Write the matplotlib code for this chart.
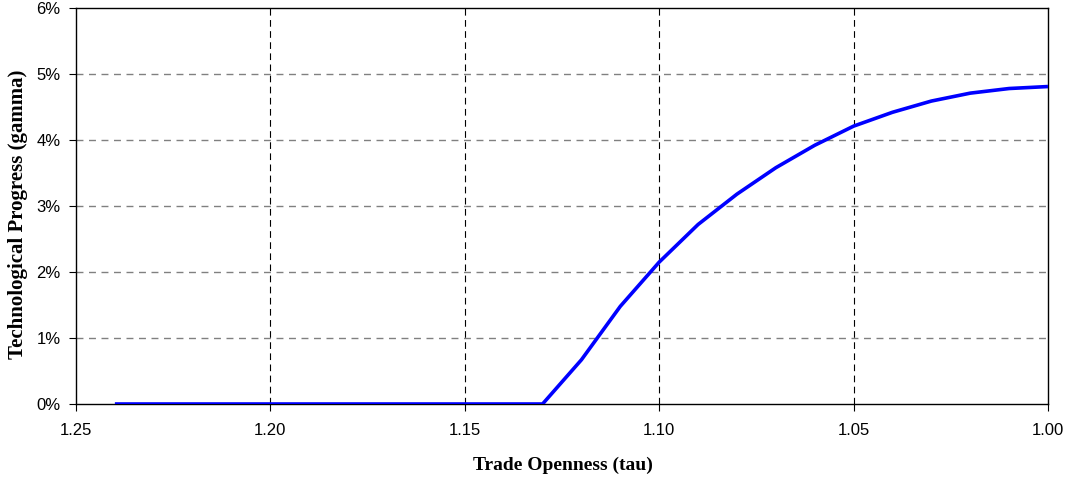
import numpy as np
import matplotlib
matplotlib.use('Agg')
import matplotlib.pyplot as plt
from matplotlib.ticker import FuncFormatter

# Data
tau = [1.24, 1.23, 1.22, 1.21, 1.20, 1.19, 1.18, 1.17, 1.16, 1.15, 1.14, 1.13,
       1.12, 1.11, 1.10, 1.09, 1.08, 1.07, 1.06, 1.05, 1.04, 1.03, 1.02, 1.01, 1.00]
gamma = [0.0, 0.0, 0.0, 0.0, 0.0, 0.0, 0.0, 0.0, 0.0, 0.0, 0.0, 0.0,
         0.0067, 0.0148, 0.0215, 0.0272, 0.0318, 0.0358, 0.0392, 0.0421,
         0.0442, 0.0459, 0.0471, 0.0478, 0.0481]

x_ticks = [1.25, 1.20, 1.15, 1.10, 1.05, 1.00]
y_ticks = [0.0, 0.01, 0.02, 0.03, 0.04, 0.05, 0.06]

TS = 12   # tick size
LBF = 14  # label size

fig = plt.figure(figsize=(10.75, 4.79), dpi=100)
ax = fig.add_axes([76/1075, 1 - 404/479, (1048-76)/1075, (404-8)/479])

ax.plot(tau, gamma, color='#0000ff', lw=2.6, solid_capstyle='butt', zorder=3)

ax.set_xlim(1.25, 1.00)
ax.set_ylim(0, 0.06)
ax.set_xticks(x_ticks)
ax.set_yticks(y_ticks)
ax.xaxis.set_major_formatter(FuncFormatter(lambda v, p: '%.2f' % v))
ax.yaxis.set_major_formatter(FuncFormatter(lambda v, p: '%d%%' % round(v*100)))

for v in x_ticks[1:-1]:
    ax.axvline(v, color='black', lw=0.8, ls=(0, (6, 4)), zorder=1)
for v in y_ticks[1:-1]:
    ax.axhline(v, color='#808080', lw=1.0, ls=(0, (5, 4)), zorder=1)

for s in ax.spines.values():
    s.set_color('black')
    s.set_linewidth(1.0)

ax.tick_params(axis='both', which='major', labelsize=TS, direction='out', length=5,
               width=0.8, color='black')
ax.tick_params(axis='x', pad=9)
ax.tick_params(axis='y', pad=6)
for lab in ax.get_xticklabels() + ax.get_yticklabels():
    lab.set_family(['Liberation Sans', 'DejaVu Sans'])

serif = ['Liberation Serif', 'DejaVu Serif']
fig.text(562.5/1075, 1 - 465/479, 'Trade Openness (tau)', fontsize=LBF,
         fontweight='bold', family=serif, ha='center', va='center')
fig.text(18.5/1075, 1 - 214.5/479, 'Technological Progress (gamma)', fontsize=LBF + 1,
         fontweight='bold', family=serif, ha='center', va='center', rotation=90)

fig.savefig('out.png', dpi=100)
